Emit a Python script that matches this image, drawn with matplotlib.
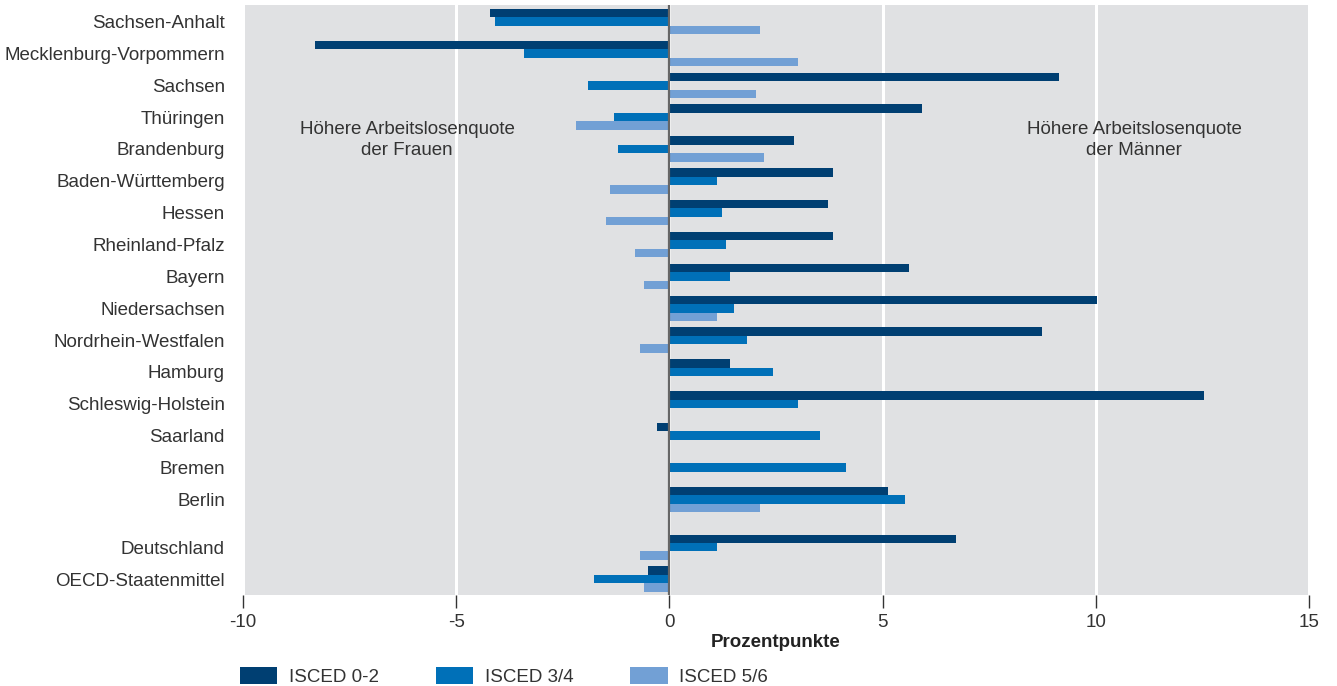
import numpy as np
import matplotlib
matplotlib.use("Agg")
import matplotlib.pyplot as plt

plt.rcParams["font.family"] = ["Liberation Sans", "DejaVu Sans"]

laender = ["Sachsen-Anhalt", "Mecklenburg-Vorpommern", "Sachsen", "Thüringen",
           "Brandenburg", "Baden-Württemberg", "Hessen", "Rheinland-Pfalz",
           "Bayern", "Niedersachsen", "Nordrhein-Westfalen", "Hamburg",
           "Schleswig-Holstein", "Saarland", "Bremen", "Berlin",
           "Deutschland", "OECD-Staatenmittel"]
isced02 = [-4.2, -8.3, 9.13, 5.93, 2.92, 3.84, 3.72, 3.84, 5.63, 10.03,
           8.74, 1.42, 12.54, -0.28, 0.0, 5.13, 6.73, -0.5]
isced34 = [-4.08, -3.4, -1.9, -1.3, -1.2, 1.12, 1.24, 1.33, 1.42, 1.52,
           1.82, 2.43, 3.02, 3.54, 4.13, 5.53, 1.12, -1.78]
isced56 = [2.13, 3.02, 2.03, -2.18, 2.22, -1.39, -1.48, -0.8, -0.6, 1.12,
           -0.68, 0.0, 0.0, 0.0, 0.0, 2.13, -0.68, -0.6]
serien = ["ISCED 0-2", "ISCED 3/4", "ISCED 5/6"]
farben = ["#003f72", "#0070b8", "#72a0d5"]

# gap of half a row before Deutschland / OECD
pos = np.array(list(range(16)) + [16.5, 17.5])

fs = 13.5
fig = plt.figure(figsize=(13.37, 6.86), dpi=100)
ax = fig.add_axes([243 / 1337, 1 - 595 / 686, 1066 / 1337, 590 / 686])
ax.set_facecolor("#e0e1e3")

h = 0.265
for i, (vals, name, c) in enumerate(zip([isced02, isced34, isced56], serien, farben)):
    ax.barh(pos + (i - 1) * h, vals, height=h, color=c, label=name, zorder=3)

ax.set_xlim(-10, 15)
ax.set_ylim(18.0, -0.52)
ax.set_xticks([-10, -5, 0, 5, 10, 15])
ax.set_xticklabels(["-10", "-5", "0", "5", "10", "15"])
ax.set_yticks(pos)
ax.set_yticklabels(laender)
ax.tick_params(axis="y", length=0, pad=13, labelsize=fs, labelcolor="#333333")
ax.tick_params(axis="x", length=9, width=1, color="#333333", pad=5,
               labelsize=fs, labelcolor="#333333")
for s in ax.spines.values():
    s.set_visible(False)
ax.grid(axis="x", color="white", lw=2.2, zorder=1)
ax.axvline(0, color="#666666", lw=1.6, zorder=4)

ax.text(-6.15, 3.72, "Höhere Arbeitslosenquote\nder Frauen", ha="center",
        va="center", fontsize=fs, color="#333333", linespacing=1.35, zorder=5)
ax.text(10.9, 3.72, "Höhere Arbeitslosenquote\nder Männer", ha="center",
        va="center", fontsize=fs, color="#333333", linespacing=1.35, zorder=5)

ax.set_xlabel("Prozentpunkte", fontsize=fs, fontweight="bold",
              color="#222222", labelpad=2)

fig.legend(loc="lower left", bbox_to_anchor=(223 / 1337, -17 / 686), ncol=3,
           frameon=False, fontsize=fs, handlelength=2.0, handleheight=1.0,
           handletextpad=0.6, columnspacing=3.05, labelcolor="#333333")

fig.savefig("out.png", dpi=100)
